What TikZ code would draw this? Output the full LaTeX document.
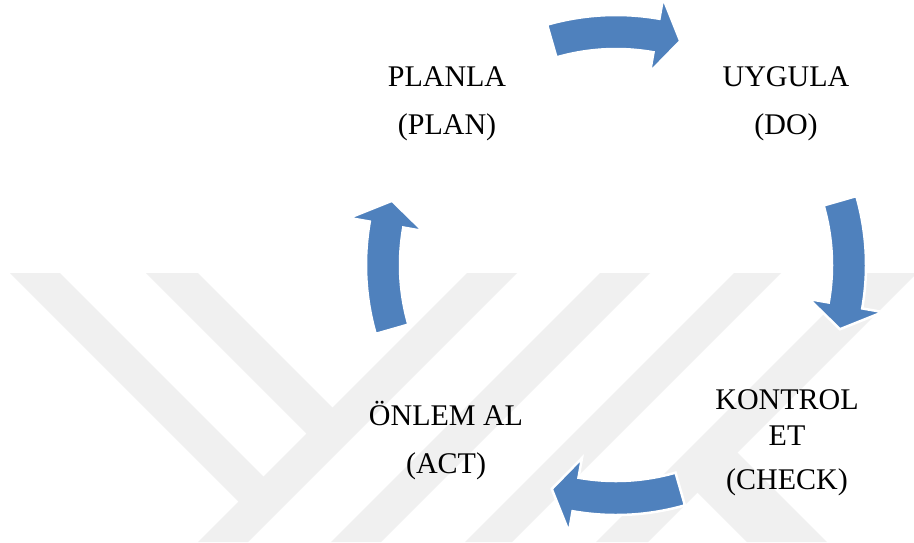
\documentclass[tikz,border=0pt]{standalone}
\usepackage{fontspec}
\setmainfont{Liberation Serif}
\usetikzlibrary{calc}
\definecolor{cycblue}{HTML}{4F81BD}
\definecolor{wmgray}{HTML}{F0F0F0}

\begin{document}
\begin{tikzpicture}[
    x=1pt, y=1pt,
    cyc/.style={fill=cycblue, draw=white, line width=2.5pt, line join=miter},
    wm/.style={fill=wmgray},
    lbl/.style={align=center, inner sep=0pt, font=\fontsize{30}{36}\selectfont}
]
    \useasboundingbox[fill=white] (0,0) rectangle (914,-542);
    % faint background stripes
    \begin{scope}
        \clip (0,-273) rectangle (914,-542);
        \fill[wm] (467,-273) -- (517,-273) -- (248,-542) -- (198,-542) -- cycle;
        \fill[wm] (600,-273) -- (650,-273) -- (381,-542) -- (331,-542) -- cycle;
        \fill[wm] (734,-273) -- (781,-273) -- (512,-542) -- (465,-542) -- cycle;
        \fill[wm] (865,-273) -- (917,-273) -- (648,-542) -- (596,-542) -- cycle;
        \fill[wm] (10,-273) -- (60,-273) -- (273.5,-486.5) -- (248.5,-511.5) -- cycle;
        \fill[wm] (146,-273) -- (198,-273) -- (342.5,-417.5) -- (316.5,-443.5) -- cycle;
        \fill[wm] (687.5,-482.5) -- (727.5,-442.5) -- (827,-542) -- (747,-542) -- cycle;
    \end{scope}

    % cycle arrows
    \coordinate (c) at (616,-265);
    \foreach \a in {90,0,-90,180} {
        \path[cyc] ($(c)+(\a+16:250)$) arc[start angle=\a+16, end angle=\a-10, radius=250]
            -- ($(c)+(\a-10:271)$) -- ($(c)+(\a-16:233)$) -- ($(c)+(\a-10:196)$)
            -- ($(c)+(\a-10:216)$) arc[start angle=\a-10, end angle=\a+16, radius=216] -- cycle;
    }

    \node[lbl] (plan) at (447,-104) {PLANLA\\[12pt](PLAN)};
    \node[lbl] (do) at (786,-104) {UYGULA\\[12pt](DO)};
    \node[lbl] (check) at (787,-443) {KONTROL\\ET\\[8pt](CHECK)};
    \node[lbl] (act) at (446,-441) {ÖNLEM AL\\[12pt](ACT)};
\end{tikzpicture}
\end{document}
